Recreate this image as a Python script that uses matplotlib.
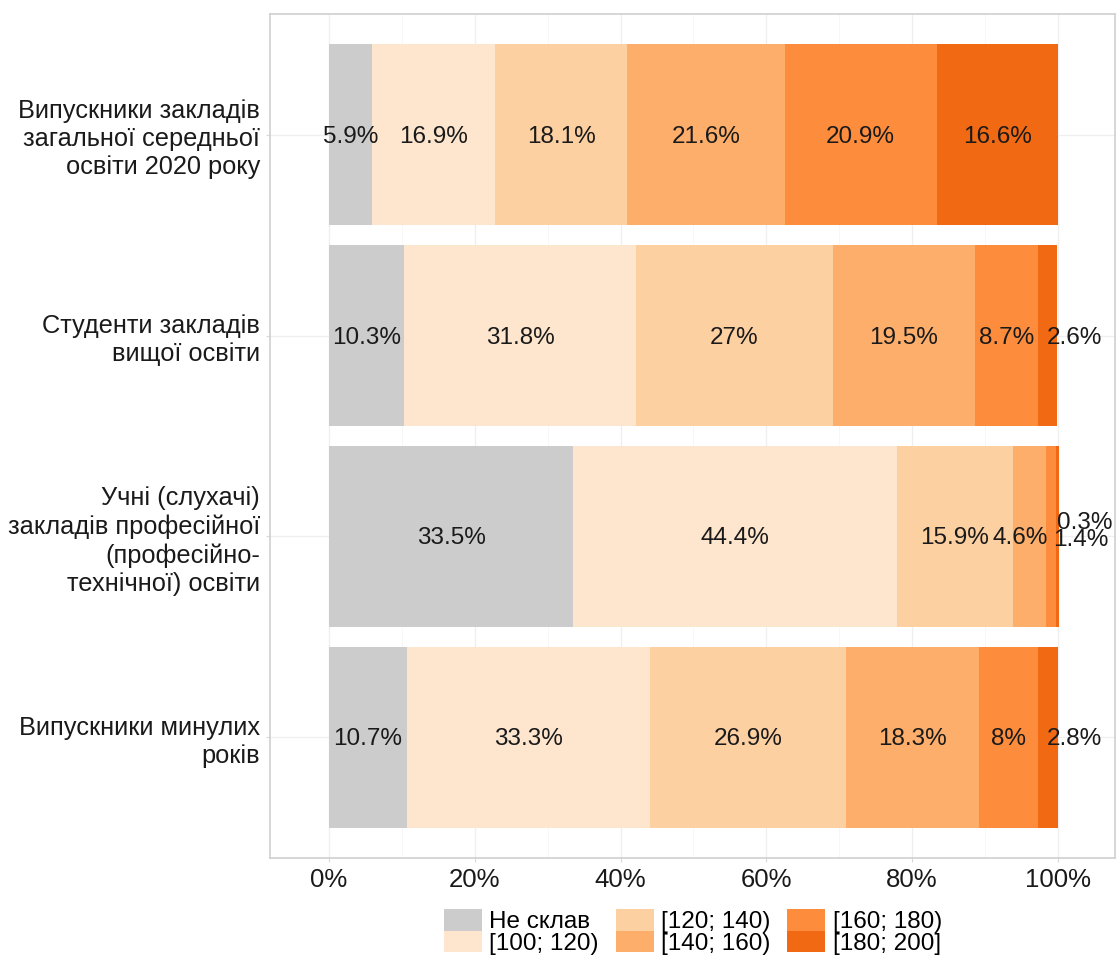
import matplotlib
matplotlib.use("Agg")
import matplotlib.pyplot as plt
from matplotlib.patches import Patch
import numpy as np

plt.rcParams['font.family'] = ['Liberation Sans', 'DejaVu Sans']

groups = [
    "Випускники закладів\nзагальної середньої\nосвіти 2020 року",
    "Студенти закладів\nвищої освіти",
    "Учні (слухачі)\nзакладів професійної\n(професійно-\nтехнічної) освіти",
    "Випускники минулих\nроків",
]
categories = ["Не склав", "[100; 120)", "[120; 140)", "[140; 160)", "[160; 180)", "[180; 200]"]
values = [
    [5.9, 16.9, 18.1, 21.6, 20.9, 16.6],
    [10.3, 31.8, 27, 19.5, 8.7, 2.6],
    [33.5, 44.4, 15.9, 4.6, 1.4, 0.3],
    [10.7, 33.3, 26.9, 18.3, 8, 2.8],
]
labels = [
    ["5.9%", "16.9%", "18.1%", "21.6%", "20.9%", "16.6%"],
    ["10.3%", "31.8%", "27%", "19.5%", "8.7%", "2.6%"],
    ["33.5%", "44.4%", "15.9%", "4.6%", "1.4%", "0.3%"],
    ["10.7%", "33.3%", "26.9%", "18.3%", "8%", "2.8%"],
]
colors = ["#cccccc", "#fee6ce", "#fdd0a2", "#fdae6b", "#fd8d3c", "#f16913"]

# small label nudges (x in %, y in category units; axis is inverted so -y is up)
nudge = {(1, 5): (3.6, 0), (3, 5): (3.7, 0), (2, 3): (-1.3, 0),
         (2, 4): (4.1, 0.01), (2, 5): (3.7, -0.075)}

fig = plt.figure(figsize=(11.16, 9.6), dpi=100)
ax = fig.add_axes([0.2419, 0.1063, 0.757, 0.8791])

ypos = np.arange(len(groups))
for i, row in enumerate(values):
    left = 0
    for j, v in enumerate(row):
        ax.barh(ypos[i], v, left=left, height=0.9, color=colors[j], linewidth=0)
        dx, dy = nudge.get((i, j), (0, 0))
        ax.text(left + v / 2 + dx, ypos[i] + 0.01 + dy, labels[i][j], ha='center', va='center',
                fontsize=17.5, color='#1a1a1a', zorder=5)
        left += v

ax.set_xlim(-8.1, 107.8)
ax.set_ylim(len(groups) - 0.4, -0.6)
ax.set_yticks(ypos)
ax.set_yticklabels(groups, fontsize=18.3, color='#1a1a1a', linespacing=1.22)
xt = [0, 20, 40, 60, 80, 100]
ax.set_xticks(xt)
ax.set_xticklabels([f"{t}%" for t in xt], fontsize=18.5, color='#1a1a1a')
ax.set_xticks([10, 30, 50, 70, 90], minor=True)
ax.tick_params(axis='both', which='major', length=3, color='#d9d9d9', pad=4)
ax.tick_params(axis='x', which='minor', length=0)
ax.grid(True, which='major', color='#efefef', linewidth=0.9)
ax.grid(True, which='minor', axis='x', color='#f6f6f6', linewidth=0.6)
ax.set_axisbelow(True)
for s in ax.spines.values():
    s.set_color('#cfcfcf')
    s.set_linewidth(1.2)

handles = [Patch(facecolor=c, edgecolor='none') for c in colors]
fig.legend(handles, categories, loc='center', bbox_to_anchor=(693 / 1116, 1 - 932 / 960),
           ncol=3, frameon=False, fontsize=17.5, handlelength=1.56, handleheight=1.0,
           labelspacing=-0.12, handletextpad=0.3, columnspacing=0.7, borderpad=0)

fig.savefig("out.png", dpi=100)
